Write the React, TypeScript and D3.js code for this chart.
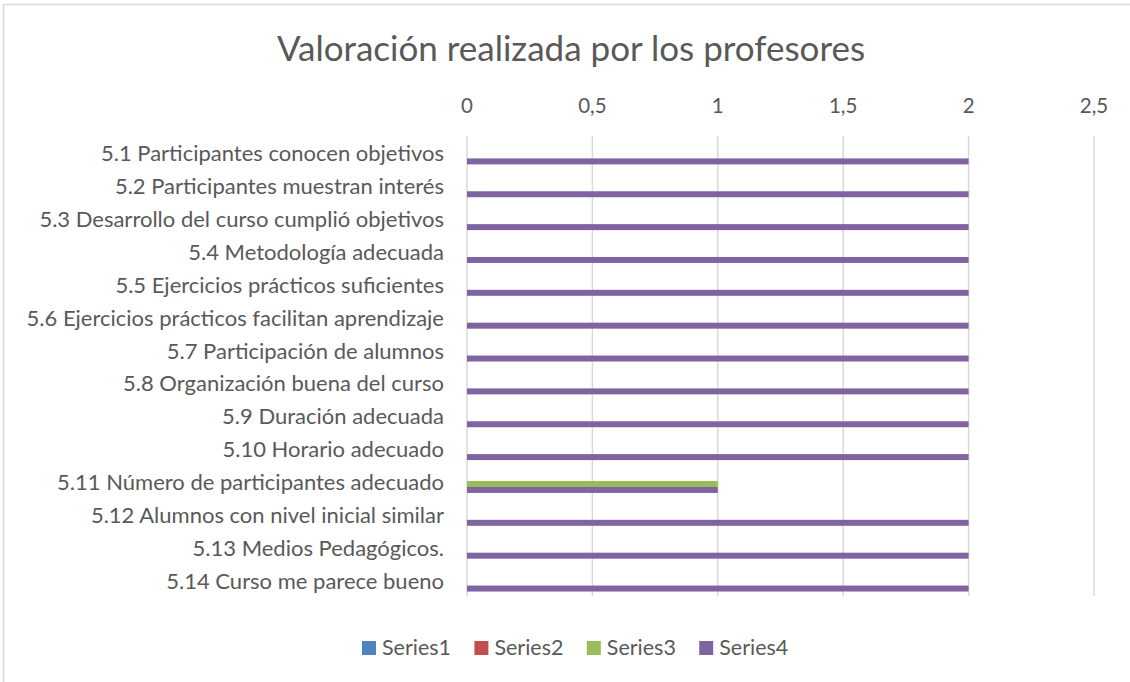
import React from 'react'
import * as d3 from 'd3'

const categories = [
  '5.1 Participantes conocen objetivos',
  '5.2 Participantes muestran interés',
  '5.3 Desarrollo del curso cumplió objetivos',
  '5.4 Metodología adecuada',
  '5.5 Ejercicios prácticos suficientes',
  '5.6 Ejercicios prácticos facilitan aprendizaje',
  '5.7 Participación de alumnos',
  '5.8 Organización buena del curso',
  '5.9 Duración adecuada',
  '5.10 Horario adecuado',
  '5.11 Número de participantes adecuado',
  '5.12 Alumnos con nivel inicial similar',
  '5.13 Medios Pedagógicos.',
  '5.14 Curso me parece bueno',
]

const seriesNames = ['Series1', 'Series2', 'Series3', 'Series4']
const series1 = [0, 0, 0, 0, 0, 0, 0, 0, 0, 0, 0, 0, 0, 0]
const series2 = [0, 0, 0, 0, 0, 0, 0, 0, 0, 0, 0, 0, 0, 0]
const series3 = [0, 0, 0, 0, 0, 0, 0, 0, 0, 0, 1, 0, 0, 0]
const series4 = [2, 2, 2, 2, 2, 2, 2, 2, 2, 2, 1, 2, 2, 2]
const ticks = [0, 0.5, 1, 1.5, 2, 2.5]

const colors = ['#4F81BD', '#C0504D', '#9BBB59', '#8064A2']
const FONT = 'Lato, "Open Sans", sans-serif'
const TEXT = '#595959'

const App = () => {
  const width = 1130
  const height = 682
  const allSeries = [series1, series2, series3, series4]

  // value axis sits on top because categories run top-down
  const x = d3.scaleLinear().domain([0, 2.5]).range([467, 1094])
  const y = d3.scaleBand().domain(categories).range([136, 596]).paddingInner(0)
  // gap width 150% -> outer padding 0.75 bar
  const ys = d3.scaleBand().domain(seriesNames).range([0, y.bandwidth()]).paddingOuter(0.75)

  const fmt = (d: number) => String(d).replace('.', ',')

  return (
    <svg width={width} height={height} style={{position: 'fixed', left: 0, top: 0}}>
      <rect x={0} y={0} width={width} height={height} fill="#fff" />
      <rect x={3.5} y={4.5} width={width + 10} height={height + 10} fill="none" stroke="#d9d9d9" strokeWidth={1.5} />

      <text x={571} y={61} textAnchor="middle" fontFamily={FONT} fontSize={35} fill={TEXT}>
        Valoración realizada por los profesores
      </text>

      {ticks.map((t) => (
        <g key={t}>
          <line x1={x(t)} x2={x(t)} y1={136} y2={596} stroke="#d9d9d9" strokeWidth={1.5} />
          <text x={x(t)} y={113} textAnchor="middle" fontFamily={FONT} fontSize={20.5} fill={TEXT}>
            {fmt(t)}
          </text>
        </g>
      ))}

      {categories.map((c) => (
        <text key={c} x={444} y={(y(c) as number) + y.bandwidth() / 2 + 9} textAnchor="end"
          fontFamily={FONT} fontSize={22} fill={TEXT}>
          {c}
        </text>
      ))}

      {allSeries.map((vals, si) => (
        <g key={si} fill={colors[si]}>
          {vals.map((v, i) => v > 0 ? (
            <rect key={i} x={x(0)} y={(y(categories[i]) as number) + (ys(seriesNames[si]) as number)}
              width={x(v) - x(0)} height={ys.bandwidth()} />
          ) : null)}
        </g>
      ))}

      {seriesNames.map((s, i) => (
        <g key={s} transform={`translate(${362 + i * 112.4},641)`}>
          <rect x={0} y={0} width={14} height={14} fill={colors[i]} />
          <text x={20} y={14} fontFamily={FONT} fontSize={21.5} fill={TEXT}>{s}</text>
        </g>
      ))}
    </svg>
  )
}

export default App
